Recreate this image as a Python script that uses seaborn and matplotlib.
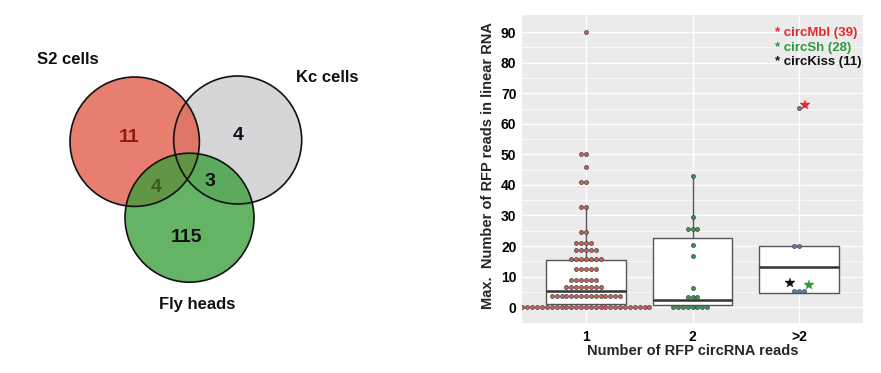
import numpy as np
import pandas as pd
import matplotlib
matplotlib.use("Agg")
import matplotlib.pyplot as plt
import matplotlib.transforms as mtransforms
from matplotlib.patches import Circle
import seaborn as sns

# ---------------- Venn data ----------------
venn_sets = ["S2 cells", "Kc cells", "Fly heads"]
# regions: S2 only, Kc only, S2&Fly, Kc&Fly, Fly only
venn_regions = ["S2", "Kc", "S2&Fly", "Kc&Fly", "Fly"]
venn_counts = [11, 4, 4, 3, 115]

# ---------------- dot/box plot data ----------------
categories = ["1", "2", ">2"]
cat1_levels = [0, 3.5, 6.5, 8.9, 12.5, 15.7, 18.8, 20.9, 24.5, 32.6, 40.8, 45.9, 50.0, 89.9]
cat1_counts = [27, 15, 8, 6, 5, 7, 5, 4, 2, 2, 2, 1, 2, 1]
cat2_levels = [0, 3.3, 6.3, 16.6, 20.3, 25.5, 29.6, 42.9]
cat2_counts = [8, 3, 1, 1, 1, 3, 1, 1]
cat3_levels = [5.2, 20.1, 65.3]
cat3_counts = [3, 2, 1]

box_q1 = [1.1, 0.8, 4.7]
box_med = [5.2, 2.2, 13.0]
box_q3 = [15.5, 22.5, 20.1]
box_whislo = [1.1, 0.8, 4.7]
box_whishi = [32.6, 42.9, 20.1]

marked_names = ["circMbl (39)", "circSh (28)", "circKiss (11)"]
marked_colors = ["#E8262B", "#2E9A3E", "#111111"]

yticks = [0, 10, 20, 30, 40, 50, 60, 70, 80, 90]

# ---------------- style ----------------
sns.set_theme(style="white")
plt.rcParams["font.family"] = ["Liberation Sans", "DejaVu Sans"]
plt.rcParams["font.weight"] = "bold"
plt.rcParams["axes.labelweight"] = "bold"

fig = plt.figure(figsize=(8.81, 3.73), dpi=100)
fig.patch.set_facecolor("white")

# ---------------- Venn panel (pixel coordinates) ----------------
axv = fig.add_axes([0, 0, 0.5, 1])
axv.set_xlim(0, 440.5)
axv.set_ylim(373, 0)
axv.set_aspect("equal")
axv.axis("off")

circ_centers = {"S2": (134.7, 141.7), "Kc": (237.7, 140.0), "Fly": (189.5, 217.7)}
circ_r = {"S2": 64.7, "Kc": 64.0, "Fly": 64.5}
circ_face = {"Kc": ("#D6D6D9", 1.0), "S2": ("#E15A46", 0.78), "Fly": ("#3A9E3A", 0.78)}
for key in ["Kc", "S2", "Fly"]:
    fc, a = circ_face[key]
    axv.add_patch(Circle(circ_centers[key], circ_r[key], facecolor=fc, alpha=a,
                         edgecolor="none", zorder=1))
for key in ["S2", "Kc", "Fly"]:
    axv.add_patch(Circle(circ_centers[key], circ_r[key], facecolor="none",
                         edgecolor="#111111", linewidth=1.2, zorder=2))

region_pos = {"S2": (129, 137), "Kc": (238, 135), "S2&Fly": (156, 187),
              "Kc&Fly": (210, 181), "Fly": (186, 238)}
region_col = {"S2": "#8A1C12", "Kc": "#111122", "S2&Fly": "#3C5A22",
              "Kc&Fly": "#111111", "Fly": "#111111"}
for reg, cnt in zip(venn_regions, venn_counts):
    axv.text(*region_pos[reg], str(cnt), ha="center", va="center", fontsize=14,
             fontweight="bold", color=region_col[reg], zorder=3)

set_label_pos = {"S2 cells": (68, 60), "Kc cells": (327, 77), "Fly heads": (197, 304)}
for name in venn_sets:
    axv.text(*set_label_pos[name], name, ha="center", va="center", fontsize=12,
             fontweight="bold", color="#111111")

# ---------------- dot + box panel ----------------
ax = fig.add_axes([522 / 881, 50 / 373, 341 / 881, 308 / 373])
ax.set_facecolor("#EBEBEB")
ax.set_axisbelow(True)

pos = np.arange(len(categories)) * 0.5
levels = [cat1_levels, cat2_levels, cat3_levels]
counts = [cat1_counts, cat2_counts, cat3_counts]
dot_colors = ["#C85F5B", "#3F9256", "#5A80A8"]

stats = []
for i in range(len(categories)):
    stats.append(dict(med=box_med[i], q1=box_q1[i], q3=box_q3[i],
                      whislo=box_whislo[i], whishi=box_whishi[i], fliers=[]))
ax.bxp(stats, positions=pos, widths=0.375, showfliers=False, showcaps=False,
       patch_artist=True, manage_ticks=False, zorder=2,
       boxprops=dict(facecolor="white", edgecolor="#555555", linewidth=1.0),
       medianprops=dict(color="#333333", linewidth=1.8),
       whiskerprops=dict(color="#555555", linewidth=1.0))

for i in range(len(categories)):
    vals = np.repeat(levels[i], counts[i])
    df = pd.DataFrame({"x": np.full(len(vals), pos[i]), "y": vals})
    sns.swarmplot(data=df, x="x", y="y", native_scale=True, orient="x",
                  color=dot_colors[i], size=2.9, edgecolor="#3a3a3a",
                  linewidth=0.45, ax=ax, zorder=3, warn_thresh=1.0)

# stars next to the marked circRNAs in the ">2" group
top_val = max(cat3_levels)
low_val = min(cat3_levels)
star_specs = [(top_val, 6, 3, marked_colors[0]),
              (low_val, 10, 6, marked_colors[1]),
              (low_val, -9, 8, marked_colors[2])]
for yv, dx, dy, col in star_specs:
    tr = mtransforms.offset_copy(ax.transData, fig=fig, x=dx, y=dy, units="dots")
    ax.plot([pos[2]], [yv], marker="*", markersize=7, color=col,
            markeredgewidth=0.3, transform=tr, zorder=4, linestyle="none")

# legend-like text
for k, (nm, col) in enumerate(zip(marked_names, marked_colors)):
    ax.text(0.742, 0.94 - k * 0.046, "* " + nm, transform=ax.transAxes,
            ha="left", va="center", fontsize=9.5, fontweight="bold", color=col)

ax.set_xlim(-0.3, 1.3)
ax.set_ylim(-5.2, 95.6)
ax.set_xticks(pos)
ax.set_xticklabels(categories)
ax.set_yticks(yticks)
ax.set_yticklabels([str(t) for t in yticks])
ax.set_yticks(np.arange(5, 95, 10), minor=True)
ax.grid(which="major", color="white", linewidth=1.0)
ax.grid(which="minor", axis="y", color="white", linewidth=0.5)
for s in ax.spines.values():
    s.set_visible(False)
ax.tick_params(axis="both", which="major", length=3, width=1, color="#333333",
               labelsize=10, labelcolor="black", pad=1)
ax.tick_params(axis="y", which="minor", length=0)
ax.tick_params(axis="x", which="major", pad=2)
for lab in ax.get_xticklabels() + ax.get_yticklabels():
    lab.set_fontweight("bold")

ax.set_xlabel("Number of RFP circRNA reads", fontsize=10.5, fontweight="bold")
ax.set_ylabel("Max.  Number of RFP reads in linear RNA", fontsize=10.5, fontweight="bold")
ax.xaxis.set_label_coords(0.5, -0.068)
ax.yaxis.set_label_coords(-0.079, 0.51)

fig.savefig("out.png", dpi=100)
